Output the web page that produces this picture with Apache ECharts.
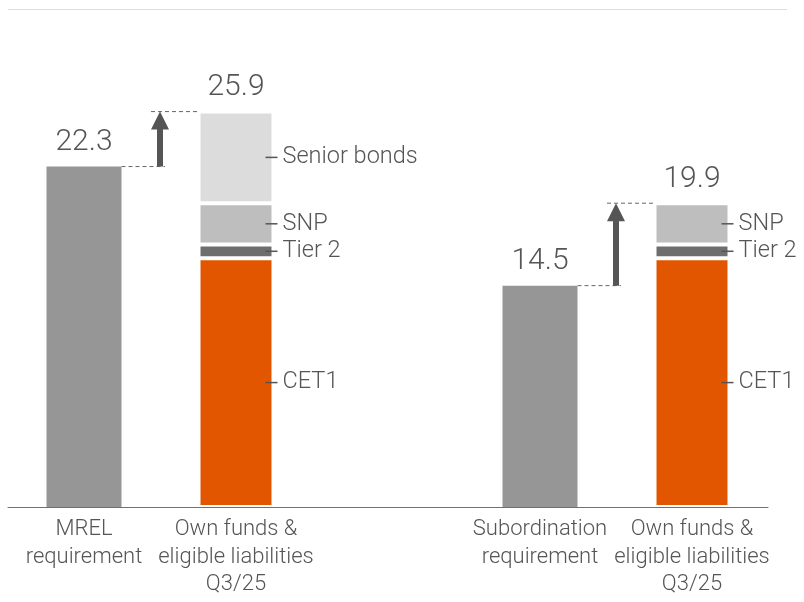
<!DOCTYPE html>
<html>
<head>
<meta charset="utf-8">
<script src="https://cdn.jsdelivr.net/npm/echarts@6/dist/echarts.min.js"></script>
<style>
html, body { margin: 0; padding: 0; background: #fff; }
#chart { width: 804px; height: 602px; }
</style>
</head>
<body>
<div id="chart"></div>
<script>
var categories = [
  'MREL\nrequirement',
  'Own funds &\neligible liabilities\nQ3/25',
  '',
  'Subordination\nrequirement',
  'Own funds &\neligible liabilities\nQ3/25'
]
var requirement = [22.3, null, null, 14.5, null]
var cet1 = [null, 16.3, null, null, 16.3]
var tier2 = [null, 0.9, null, null, 0.9]
var snp = [null, 2.7, null, null, 2.7]
var seniorBonds = [null, 6.0, null, null, null]
var totals = [null, 25.9, null, null, 19.9]

var font = '"Liberation Sans Narrow", "Roboto", sans-serif'
var textColor = '#555'
var barWidth = 75

// arrow from each requirement up to the total of the bar next to it
var arrows = []
requirement.forEach(function (v, i) {
  if (v != null && totals[i + 1] != null) {
    arrows.push([i, v, totals[i + 1]])
  }
})

function blank (arr) {
  return arr.map(function (v) { return v == null ? '-' : v })
}

function partLabel (name) {
  return {
    show: true,
    position: ['100%', '50%'],
    offset: [-8, 0],
    align: 'left',
    verticalAlign: 'middle',
    formatter: '{l| }{t|' + name + '}',
    rich: {
      l: { width: 12, height: 1.5, backgroundColor: '#555' },
      t: { fontFamily: font, fontWeight: 300, fontSize: 23.5, color: textColor, padding: [0, 0, 0, 5] }
    }
  }
}

function part (name, data, color) {
  return {
    name: name,
    type: 'bar',
    stack: 'a',
    barWidth: barWidth,
    data: blank(data),
    itemStyle: { color: color, borderColor: '#fff', borderWidth: 2 },
    label: partLabel(name),
    emphasis: { disabled: true }
  }
}

var valueLabel = {
  show: true,
  position: 'top',
  distance: 9,
  fontFamily: font,
  fontWeight: 300,
  fontSize: 30,
  color: textColor
}

var chart = echarts.init(document.getElementById('chart'))
chart.setOption({
  animation: false,
  grid: { left: 8, right: 36, top: 49, bottom: 95 },
  graphic: [{
    type: 'line',
    shape: { x1: 8, y1: 9.5, x2: 787, y2: 9.5 },
    style: { stroke: '#dddddd', lineWidth: 1 }
  }],
  xAxis: {
    type: 'category',
    data: categories,
    axisLine: { lineStyle: { color: '#707070', width: 1 } },
    axisTick: { show: false },
    axisLabel: {
      interval: 0,
      margin: 9,
      fontFamily: font,
      fontWeight: 300,
      fontSize: 22,
      lineHeight: 27.5,
      color: textColor
    }
  },
  yAxis: {
    type: 'value',
    min: 0,
    max: 30,
    show: false
  },
  series: [
    {
      name: 'Requirement',
      type: 'bar',
      stack: 'a',
      barWidth: barWidth,
      data: blank(requirement),
      itemStyle: { color: '#969696' },
      label: valueLabel,
      emphasis: { disabled: true }
    },
    part('CET1', cet1, '#e35600'),
    part('Tier 2', tier2, '#6e6e6e'),
    part('SNP', snp, '#bebebe'),
    part('Senior bonds', seniorBonds, '#dcdcdc'),
    {
      name: 'Total',
      type: 'bar',
      stack: 'a',
      barWidth: barWidth,
      data: blank(totals.map(function (v) { return v == null ? null : 0 })),
      itemStyle: { color: 'transparent' },
      label: Object.assign({}, valueLabel, {
        formatter: function (p) { return totals[p.dataIndex].toFixed(1) }
      }),
      emphasis: { disabled: true }
    },
    {
      name: 'Gap',
      type: 'custom',
      data: arrows,
      silent: true,
      renderItem: function (params, api) {
        var i = api.value(0)
        var p0 = api.coord([i, api.value(1)])
        var p1 = api.coord([i + 1, api.value(2)])
        var x = (p0[0] + p1[0]) / 2
        var half = barWidth / 2
        var dash = { stroke: '#666', lineWidth: 1, lineDash: [4, 3] }
        return {
          type: 'group',
          children: [
            { type: 'line', shape: { x1: p0[0] + half, y1: p0[1], x2: x + 5, y2: p0[1] }, style: dash },
            { type: 'line', shape: { x1: x - 9, y1: p1[1], x2: p1[0] - half, y2: p1[1] }, style: dash },
            {
              type: 'polygon',
              shape: {
                points: [
                  [x - 3, p0[1]], [x - 3, p1[1] + 18], [x - 9, p1[1] + 18], [x, p1[1]],
                  [x + 9, p1[1] + 18], [x + 3, p1[1] + 18], [x + 3, p0[1]]
                ]
              },
              style: { fill: '#555' }
            }
          ]
        }
      }
    }
  ]
})
</script>
</body>
</html>
